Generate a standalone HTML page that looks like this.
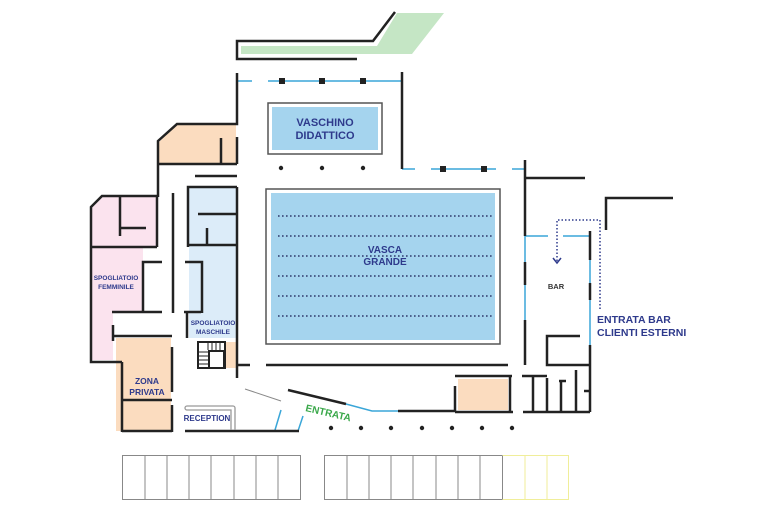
<!DOCTYPE html>
<html><head><meta charset="utf-8"><style>
html,body{margin:0;padding:0;background:#fff;}
svg{display:block;}
text{font-family:"Liberation Sans",sans-serif;font-weight:bold;fill:#2e3a8c;}
</style></head><body>
<svg width="768" height="512" viewBox="0 0 768 512" xmlns="http://www.w3.org/2000/svg">
<!-- fills -->
<polygon points="241,46 377,46 397,13 444,13 412,54 241,54" fill="#c5e6c5"/>
<polygon points="177,125 236,125 236,163 159,163 159,142" fill="#fbdcbf"/>
<polygon points="103,197 157,197 157,247 143,247 143,312 113,312 113,360 92,360 92,208" fill="#fbe3ee"/>
<rect x="116" y="338" width="55" height="93" fill="#fbdcbf"/>
<rect x="189" y="188" width="47" height="150" fill="#dcecf9"/>
<rect x="226" y="342" width="10" height="26" fill="#fbdcbf"/>
<rect x="458" y="379" width="50" height="31" fill="#fbdcbf"/>
<rect x="268" y="103" width="114" height="51" fill="none" stroke="#555" stroke-width="1.5"/>
<rect x="272" y="107" width="106" height="43" fill="#a5d4ee"/>
<rect x="266" y="189" width="234" height="155" fill="none" stroke="#555" stroke-width="1.5"/>
<rect x="271" y="193" width="224" height="147" fill="#a5d4ee"/>
<g stroke="#2e3a6c" stroke-width="1.6" stroke-dasharray="1.6 2.4">
<line x1="278" y1="216" x2="493" y2="216"/><line x1="278" y1="236" x2="493" y2="236"/>
<line x1="278" y1="256" x2="493" y2="256"/><line x1="278" y1="276" x2="493" y2="276"/>
<line x1="278" y1="296" x2="493" y2="296"/><line x1="278" y1="316" x2="493" y2="316"/>
</g>
<!-- blue lines -->
<g stroke="#3aa6d8" stroke-width="1.5" fill="none">
<line x1="237" y1="81" x2="252" y2="81"/><line x1="268" y1="81" x2="402" y2="81"/>
<line x1="402" y1="169" x2="415" y2="169"/><line x1="431" y1="169" x2="496" y2="169"/><line x1="512" y1="169" x2="525" y2="169"/>
<line x1="525" y1="236" x2="548" y2="236"/><line x1="563" y1="236" x2="590" y2="236"/>
<line x1="525" y1="236" x2="525" y2="340"/><line x1="590" y1="260" x2="590" y2="345"/>
<line x1="335" y1="365" x2="350" y2="365"/><line x1="375" y1="365" x2="390" y2="365"/><line x1="417" y1="365" x2="432" y2="365"/>
<polyline points="346,404 372,411 398,411"/>
<line x1="275" y1="430" x2="281" y2="410"/><line x1="298" y1="431" x2="303" y2="416"/>
</g>
<!-- walls -->
<g stroke="#222" stroke-width="2.5" fill="none">
<polyline points="357,59 237,59 237,41 373,41 395,12"/>
<polyline points="237,73 237,124 177,124 158,141 158,197"/>
<line x1="221" y1="138" x2="221" y2="164"/><line x1="158" y1="164" x2="237" y2="164"/>
<line x1="237" y1="137" x2="237" y2="164"/>
<line x1="195" y1="176" x2="237" y2="176"/>
<line x1="402" y1="72" x2="402" y2="169"/>
<line x1="525" y1="160" x2="525" y2="236"/>
<line x1="525" y1="262" x2="525" y2="285"/><line x1="525" y1="320" x2="525" y2="365"/>
<line x1="525" y1="178" x2="585" y2="178"/>
<polyline points="606,230 606,198 673,198"/>
<line x1="590" y1="231" x2="590" y2="260"/><line x1="590" y1="283" x2="590" y2="300"/><line x1="590" y1="345" x2="590" y2="412"/>
<polyline points="580,336 547,336 547,365 590,365"/>
<polyline points="157,247 157,196 102,196 91,207 91,362 122,362"/>
<polyline points="120,196 120,236"/><line x1="120" y1="228" x2="146" y2="228"/>
<line x1="91" y1="247" x2="157" y2="247"/>
<polyline points="162,262 143,262 143,312"/><line x1="112" y1="312" x2="162" y2="312"/>
<line x1="113" y1="325" x2="113" y2="341"/><line x1="113" y1="336" x2="172" y2="336"/>
<line x1="122" y1="362" x2="122" y2="432"/><line x1="122" y1="400" x2="172" y2="400"/><line x1="122" y1="431" x2="172" y2="431"/>
<line x1="172" y1="347" x2="172" y2="392"/><line x1="172" y1="405" x2="172" y2="432"/>
<line x1="173" y1="193" x2="173" y2="313"/>
<polyline points="188,247 188,187 237,187"/><line x1="188" y1="245" x2="237" y2="245"/>
<line x1="198" y1="214" x2="237" y2="214"/><line x1="207" y1="228" x2="207" y2="245"/>
<line x1="237" y1="187" x2="237" y2="378"/>
<polyline points="185,262 202,262 202,313"/><polyline points="184,312 201,312"/><line x1="187" y1="312" x2="187" y2="338"/>
<line x1="237" y1="365" x2="250" y2="365"/>
<line x1="266" y1="365" x2="508" y2="365"/>
<line x1="288" y1="390" x2="346" y2="404"/><line x1="398" y1="411" x2="455" y2="411"/>
<line x1="185" y1="431" x2="299" y2="431"/>
<line x1="455" y1="376" x2="512" y2="376"/><line x1="510" y1="376" x2="510" y2="412"/>
<line x1="455" y1="386" x2="455" y2="412"/><line x1="455" y1="412" x2="513" y2="412"/>
<line x1="523" y1="412" x2="590" y2="412"/><line x1="522" y1="376" x2="547" y2="376"/>
<line x1="533" y1="376" x2="533" y2="412"/><line x1="547" y1="378" x2="547" y2="412"/>
<line x1="559" y1="381" x2="566" y2="381"/><line x1="561" y1="381" x2="561" y2="412"/>
<line x1="576" y1="370" x2="576" y2="412"/><line x1="584" y1="391" x2="590" y2="391"/>
</g>
<!-- stairs -->
<g stroke="#222" stroke-width="2" fill="none">
<rect x="198" y="342" width="27" height="26"/><rect x="209" y="351" width="15" height="17" fill="#fff"/>
<g stroke-width="1"><line x1="208" y1="342" x2="208" y2="350"/><line x1="212" y1="342" x2="212" y2="350"/><line x1="216" y1="342" x2="216" y2="350"/><line x1="220" y1="342" x2="220" y2="350"/>
<line x1="198" y1="352" x2="208" y2="352"/><line x1="198" y1="356" x2="208" y2="356"/><line x1="198" y1="360" x2="208" y2="360"/><line x1="198" y1="364" x2="208" y2="364"/></g>
</g>
<line x1="245" y1="389" x2="281" y2="401" stroke="#888" stroke-width="1"/>
<path d="M235,430 V408 a2,2 0 0 0 -2,-2 H187 a2,2 0 0 0 0,4 H231 V430" fill="none" stroke="#999" stroke-width="1.3"/>
<!-- squares and dots -->
<g fill="#222">
<rect x="279" y="78" width="6" height="6"/><rect x="319" y="78" width="6" height="6"/><rect x="360" y="78" width="6" height="6"/>
<rect x="440" y="166" width="6" height="6"/><rect x="481" y="166" width="6" height="6"/>
<circle cx="281" cy="168" r="2.2"/><circle cx="322" cy="168" r="2.2"/><circle cx="363" cy="168" r="2.2"/>
<circle cx="331" cy="428" r="2.2"/><circle cx="361" cy="428" r="2.2"/><circle cx="391" cy="428" r="2.2"/><circle cx="422" cy="428" r="2.2"/><circle cx="452" cy="428" r="2.2"/><circle cx="482" cy="428" r="2.2"/><circle cx="512" cy="428" r="2.2"/>
</g>
<polyline points="557,261 557,220 600,220 600,310" fill="none" stroke="#2e3a8c" stroke-width="1.5" stroke-dasharray="1.5 2"/>
<polyline points="553,258 557,263 561,258" fill="none" stroke="#2e3a8c" stroke-width="1.5"/>
<!-- parking -->
<g fill="none" stroke="#888" stroke-width="1">
<rect x="122.5" y="455.5" width="178" height="44"/>
<line x1="145" y1="455" x2="145" y2="500"/><line x1="167" y1="455" x2="167" y2="500"/><line x1="189" y1="455" x2="189" y2="500"/><line x1="211" y1="455" x2="211" y2="500"/><line x1="234" y1="455" x2="234" y2="500"/><line x1="256" y1="455" x2="256" y2="500"/><line x1="278" y1="455" x2="278" y2="500"/>
<rect x="324.5" y="455.5" width="178" height="44"/>
<line x1="347" y1="455" x2="347" y2="500"/><line x1="369" y1="455" x2="369" y2="500"/><line x1="391" y1="455" x2="391" y2="500"/><line x1="413" y1="455" x2="413" y2="500"/><line x1="436" y1="455" x2="436" y2="500"/><line x1="458" y1="455" x2="458" y2="500"/><line x1="480" y1="455" x2="480" y2="500"/>
</g>
<g fill="none" stroke="#f0ee9a" stroke-width="1">
<polyline points="502.5,455.5 568.5,455.5 568.5,499.5 502.5,499.5"/>
<line x1="525" y1="455" x2="525" y2="500"/><line x1="547" y1="455" x2="547" y2="500"/>
</g>
<!-- labels -->
<g text-anchor="middle">
<text x="325" y="126" font-size="11">VASCHINO</text><text x="325" y="139" font-size="11">DIDATTICO</text>
<text x="385" y="253" font-size="10">VASCA</text><text x="385" y="265" font-size="10">GRANDE</text>
<text x="116" y="280" font-size="6.5">SPOGLIATOIO</text><text x="116" y="289" font-size="6.5">FEMMINILE</text>
<text x="213" y="325" font-size="6.5">SPOGLIATOIO</text><text x="213" y="334" font-size="6.5">MASCHILE</text>
<text x="147" y="384" font-size="8.5">ZONA</text><text x="147" y="395" font-size="8.5">PRIVATA</text>
<text x="207" y="421" font-size="8">RECEPTION</text>
<text x="556" y="289" font-size="7.5" fill="#333" style="fill:#333">BAR</text>
</g>
<text x="597" y="323" font-size="10.5">ENTRATA BAR</text>
<text x="597" y="336" font-size="10.5">CLIENTI ESTERNI</text>
<text x="305" y="411" font-size="10" transform="rotate(13 305 411)" style="fill:#3aa84a">ENTRATA</text>
</svg>
</body></html>
